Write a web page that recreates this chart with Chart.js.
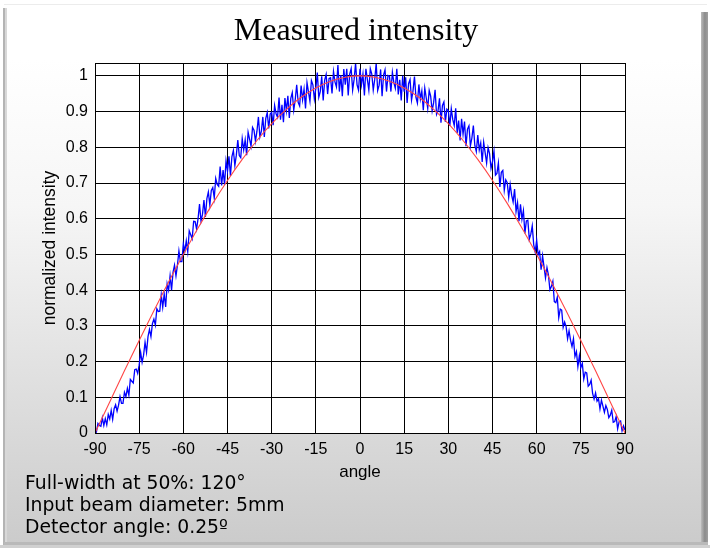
<!DOCTYPE html>
<html>
<head>
<meta charset="utf-8">
<script src="https://cdn.jsdelivr.net/npm/chart.js@4"></script>
<style>
  html, body { margin: 0; padding: 0; background: #ffffff; }
  #wrap { position: relative; width: 710px; height: 548px; overflow: hidden; }
  canvas { position: absolute; left: 0; top: 0; }
  .title { position: absolute; left: 0; top: 10px; width: 712px; text-align: center;
           font-family: "Liberation Serif", serif; font-size: 32px; line-height: 38px; color: #000; }
  .note { position: absolute; left: 25px; font-family: "DejaVu Sans", sans-serif; font-size: 18.8px;
          line-height: 22px; color: #000; white-space: nowrap; }
</style>
</head>
<body>
<div id="wrap">
  <canvas id="c" width="710" height="548"></canvas>
  <div class="title">Measured intensity</div>
  <div class="note" style="top:472px">Full-width at 50%: 120°</div>
  <div class="note" style="top:494px">Input beam diameter: 5mm</div>
  <div class="note" style="top:516px">Detector angle: 0.25º</div>
</div>
<script>
const xTicks = [-90, -75, -60, -45, -30, -15, 0, 15, 30, 45, 60, 75, 90];
const yTicks = [0, 0.1, 0.2, 0.3, 0.4, 0.5, 0.6, 0.7, 0.8, 0.9, 1];

// measured (blue) samples, every 0.5 degree from -90 to 90
const blueStart = -90;
const blueStep = 0.5;
const blueIntensity = [
  0.015, 0.004, 0.027, 0.021, 0.019, 0.043, 0.021, 0.040, 0.023, 0.052,
  0.039, 0.063, 0.038, 0.068, 0.079, 0.061, 0.078, 0.102, 0.083, 0.083,
  0.114, 0.102, 0.125, 0.106, 0.150, 0.145, 0.140, 0.177, 0.179, 0.167,
  0.190, 0.226, 0.198, 0.218, 0.254, 0.226, 0.270, 0.290, 0.270, 0.306,
  0.319, 0.302, 0.348, 0.340, 0.341, 0.387, 0.352, 0.389, 0.353, 0.418,
  0.400, 0.440, 0.400, 0.450, 0.470, 0.440, 0.470, 0.510, 0.480, 0.480,
  0.530, 0.509, 0.538, 0.507, 0.566, 0.555, 0.544, 0.593, 0.592, 0.571,
  0.600, 0.641, 0.593, 0.612, 0.652, 0.605, 0.656, 0.675, 0.638, 0.679,
  0.687, 0.658, 0.713, 0.696, 0.691, 0.746, 0.693, 0.736, 0.695, 0.762,
  0.733, 0.775, 0.720, 0.774, 0.791, 0.749, 0.778, 0.820, 0.777, 0.771,
  0.824, 0.793, 0.821, 0.778, 0.842, 0.823, 0.803, 0.856, 0.848, 0.817,
  0.845, 0.885, 0.829, 0.845, 0.885, 0.829, 0.881, 0.897, 0.853, 0.893,
  0.898, 0.862, 0.917, 0.894, 0.884, 0.939, 0.877, 0.919, 0.870, 0.938,
  0.902, 0.944, 0.882, 0.937, 0.953, 0.904, 0.933, 0.975, 0.926, 0.916,
  0.973, 0.933, 0.963, 0.909, 0.981, 0.955, 0.929, 0.987, 0.975, 0.935,
  0.965, 1.009, 0.940, 0.956, 0.999, 0.931, 0.988, 1.004, 0.949, 0.993,
  0.995, 0.951, 1.012, 0.983, 0.969, 1.030, 0.956, 1.002, 0.943, 1.019,
  0.975, 1.020, 0.945, 1.005, 1.020, 0.960, 0.990, 1.035, 0.975, 0.960,
  1.020, 0.975, 1.005, 0.945, 1.020, 0.990, 0.960, 1.020, 1.005, 0.960,
  0.990, 1.035, 0.959, 0.974, 1.018, 0.943, 1.002, 1.017, 0.956, 1.001,
  0.999, 0.956, 1.010, 0.981, 0.965, 1.020, 0.948, 0.989, 0.931, 1.000,
  0.956, 0.996, 0.924, 0.978, 0.990, 0.932, 0.958, 0.998, 0.940, 0.924,
  0.976, 0.935, 0.958, 0.904, 0.966, 0.938, 0.909, 0.959, 0.943, 0.902,
  0.925, 0.961, 0.892, 0.902, 0.937, 0.869, 0.917, 0.927, 0.871, 0.907,
  0.903, 0.860, 0.908, 0.878, 0.861, 0.909, 0.840, 0.875, 0.819, 0.880,
  0.837, 0.872, 0.803, 0.851, 0.860, 0.804, 0.826, 0.861, 0.805, 0.788,
  0.834, 0.793, 0.812, 0.759, 0.814, 0.785, 0.756, 0.799, 0.782, 0.741,
  0.760, 0.789, 0.722, 0.727, 0.756, 0.689, 0.730, 0.735, 0.680, 0.709,
  0.701, 0.660, 0.696, 0.666, 0.647, 0.683, 0.620, 0.645, 0.593, 0.640,
  0.599, 0.623, 0.559, 0.594, 0.596, 0.543, 0.556, 0.580, 0.527, 0.507,
  0.540, 0.499, 0.508, 0.457, 0.496, 0.465, 0.434, 0.463, 0.442, 0.401,
  0.410, 0.425, 0.368, 0.365, 0.380, 0.323, 0.347, 0.344, 0.296, 0.311,
  0.298, 0.264, 0.286, 0.260, 0.242, 0.264, 0.214, 0.228, 0.186, 0.216,
  0.183, 0.195, 0.151, 0.170, 0.168, 0.131, 0.136, 0.148, 0.111, 0.095,
  0.112, 0.089, 0.096, 0.067, 0.092, 0.075, 0.058, 0.077, 0.066, 0.043,
  0.050, 0.064, 0.030, 0.032, 0.046, 0.012, 0.032, 0.034, 0.006, 0.020,
  0.008
];

// reference (red) curve
const redAngles = [-90, -85, -80, -75, -70, -65, -60, -55, -50, -45, -40, -35, -30, -25, -20, -15, -10, -5, 0,
                   5, 10, 15, 20, 25, 30, 35, 40, 45, 50, 55, 60, 65, 70, 75, 80, 85, 90];
const redIntensity = [0.000, 0.087, 0.174, 0.259, 0.342, 0.423, 0.500, 0.574, 0.643, 0.707, 0.766, 0.819, 0.866, 0.906, 0.940, 0.966, 0.985, 0.996, 1.000,
                      0.996, 0.985, 0.966, 0.940, 0.906, 0.866, 0.819, 0.766, 0.707, 0.643, 0.574, 0.500, 0.423, 0.342, 0.259, 0.174, 0.087, 0.000];

const bluePoints = blueIntensity.map((v, i) => ({ x: blueStart + i * blueStep, y: v }));
const redPoints = redAngles.map((a, i) => ({ x: a, y: redIntensity[i] }));

const panelPlugin = {
  id: 'panel',
  beforeDraw(chart) {
    const ctx = chart.ctx;
    const W = chart.width, H = chart.height;
    ctx.save();
    ctx.fillStyle = '#ffffff';
    ctx.fillRect(0, 0, W, H);
    const g = ctx.createLinearGradient(0, 60, 0, 545);
    g.addColorStop(0, '#ffffff');
    g.addColorStop(0.3, '#f6f6f6');
    g.addColorStop(1, '#cbcbcb');
    ctx.fillStyle = g;
    ctx.fillRect(4, 5, 703, 540);
    ctx.fillStyle = '#ececec';
    ctx.fillRect(4, 4, 703, 1);
    ctx.fillStyle = '#b4b4b4';
    ctx.fillRect(3, 8, 2, 537);
    ctx.fillStyle = '#d8d8d8';
    ctx.fillRect(5, 8, 2, 537);
    const gr = ctx.createLinearGradient(700, 0, 708, 0);
    gr.addColorStop(0, '#c8c8c8');
    gr.addColorStop(0.6, '#8c8c8c');
    gr.addColorStop(1, '#a0a0a0');
    ctx.fillStyle = gr;
    ctx.fillRect(701, 12, 7, 533);
    ctx.fillStyle = '#b9b9b9';
    ctx.fillRect(4, 542, 704, 3);
    ctx.fillStyle = '#d0d0d0';
    ctx.fillRect(0, 545, W, 3);
    const a = chart.chartArea;
    ctx.fillStyle = '#ffffff';
    ctx.fillRect(a.left, a.top, a.right - a.left, a.bottom - a.top);
    ctx.restore();
  },
  afterDraw(chart) {
    const ctx = chart.ctx;
    const a = chart.chartArea;
    ctx.save();
    ctx.strokeStyle = '#000000';
    ctx.lineWidth = 1;
    ctx.strokeRect(Math.round(a.left) + 0.5, Math.round(a.top) + 0.5,
                   Math.round(a.right - a.left), Math.round(a.bottom - a.top));
    ctx.restore();
  }
};

new Chart(document.getElementById('c'), {
  type: 'line',
  data: {
    datasets: [
      {
        label: 'fit',
        data: redPoints,
        borderColor: '#ff4646',
        borderWidth: 1.1,
        pointRadius: 0,
        cubicInterpolationMode: 'monotone',
        fill: false
      },
      {
        label: 'measured',
        data: bluePoints,
        borderColor: '#0000ff',
        borderWidth: 1.3,
        pointRadius: 0,
        tension: 0,
        fill: false
      }
    ]
  },
  options: {
    responsive: false,
    animation: false,
    events: [],
    layout: { padding: { top: 63, right: 85, bottom: 65, left: 0 } },
    plugins: { legend: { display: false }, title: { display: false }, tooltip: { enabled: false } },
    scales: {
      x: {
        type: 'linear',
        min: -90,
        max: 90,
        afterBuildTicks: (s) => { s.ticks = xTicks.map(v => ({ value: v })); },
        afterFit: (s) => { s.height = 50; },
        ticks: {
          color: '#000',
          font: { family: 'Liberation Sans', size: 16 },
          padding: 7,
          maxRotation: 0,
          autoSkip: false,
          callback: (v) => String(v)
        },
        grid: { color: '#000', lineWidth: 1, drawTicks: false },
        border: { display: true, color: '#000' },
        title: {
          display: true,
          text: 'angle',
          color: '#000',
          font: { family: 'Liberation Sans', size: 17 },
          padding: { top: 0, bottom: 0 }
        }
      },
      y: {
        type: 'linear',
        min: 0,
        max: 1.036,
        afterBuildTicks: (s) => { s.ticks = yTicks.map(v => ({ value: v })); },
        afterFit: (s) => { s.width = 95; },
        ticks: {
          color: '#000',
          font: { family: 'Liberation Sans', size: 16 },
          padding: 7,
          autoSkip: false,
          callback: (v) => String(Math.round(v * 10) / 10)
        },
        grid: { color: '#000', lineWidth: 1, drawTicks: false },
        border: { display: true, color: '#000' },
        title: {
          display: true,
          text: 'normalized intensity',
          color: '#000',
          font: { family: 'Liberation Sans', size: 17.5 },
          padding: { top: 40, bottom: 0 }
        }
      }
    }
  },
  plugins: [panelPlugin]
});
</script>
</body>
</html>
